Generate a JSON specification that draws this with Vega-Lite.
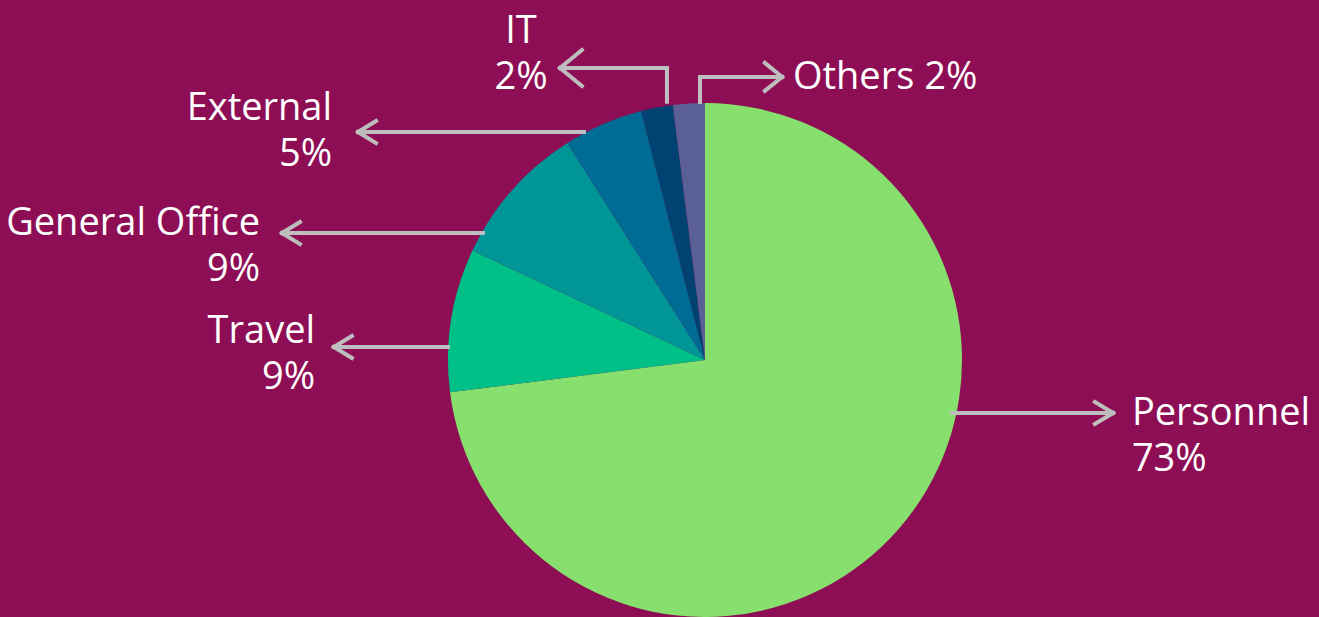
{
  "$schema": "https://vega.github.io/schema/vega-lite/v6.json",
  "width": 1228,
  "height": 514,
  "autosize": "none",
  "padding": {"left": 91, "top": 103, "right": 0, "bottom": 0},
  "background": "#8E0E55",
  "config": {"view": {"stroke": null}},
  "datasets": {
    "slices": [
      {"category": "Personnel", "share": 73, "rank": 1},
      {"category": "Travel", "share": 9, "rank": 2},
      {"category": "General Office", "share": 9, "rank": 3},
      {"category": "External", "share": 5, "rank": 4},
      {"category": "IT", "share": 2, "rank": 5},
      {"category": "Others", "share": 2, "rank": 6}
    ],
    "segs": [
      {"x": 96.1, "y": -20.6, "x2": 158.8, "y2": -20.6},
      {"x": 158.8, "y": -20.6, "x2": 151.7, "y2": -16.3},
      {"x": 158.8, "y": -20.6, "x2": 151.7, "y2": -24.9},
      {"x": -100.0, "y": 5.06, "x2": -144.4, "y2": 5.06},
      {"x": -144.4, "y": 5.06, "x2": -137.4, "y2": 9.34},
      {"x": -144.4, "y": 5.06, "x2": -137.4, "y2": 0.78},
      {"x": -86.4, "y": 49.4, "x2": -164.6, "y2": 49.4},
      {"x": -164.6, "y": 49.4, "x2": -157.6, "y2": 53.7},
      {"x": -164.6, "y": 49.4, "x2": -157.6, "y2": 45.1},
      {"x": -47.1, "y": 88.7, "x2": -135.0, "y2": 88.7},
      {"x": -135.0, "y": 88.7, "x2": -128.0, "y2": 93.0},
      {"x": -135.0, "y": 88.7, "x2": -128.0, "y2": 84.4},
      {"x": -14.8, "y": 100.5, "x2": -14.8, "y2": 113.6},
      {"x": -14.8, "y": 113.6, "x2": -56.4, "y2": 113.6},
      {"x": -56.4, "y": 113.6, "x2": -47.9, "y2": 120.6},
      {"x": -56.4, "y": 113.6, "x2": -47.9, "y2": 106.6},
      {"x": -1.95, "y": 100.4, "x2": -1.95, "y2": 110.1},
      {"x": -1.95, "y": 110.1, "x2": 30.0, "y2": 110.1},
      {"x": 30.0, "y": 110.1, "x2": 23.3, "y2": 115.6},
      {"x": 30.0, "y": 110.1, "x2": 23.3, "y2": 104.7}
    ],
    "labels": [
      {"name": "Personnel", "label": "Personnel\n73%", "x": 166.1, "y": -25.3},
      {"name": "Travel", "label": "Travel\n9%", "x": -151.7, "y": 6.6},
      {"name": "General Office", "label": "General Office\n9%", "x": -173.1, "y": 48.6},
      {"name": "External", "label": "External\n5%", "x": -145.1, "y": 93.4},
      {"name": "IT", "label": "IT\n2%", "x": -71.6, "y": 123.3},
      {"name": "Others", "label": "Others 2%", "x": 34.2, "y": 105.4}
    ]
  },
  "layer": [
    {
      "data": {"name": "slices"},
      "mark": {"type": "arc", "stroke": null},
      "encoding": {
        "theta": {"field": "share", "type": "quantitative", "stack": true},
        "order": {"field": "rank", "type": "quantitative"},
        "color": {
          "field": "category",
          "type": "nominal",
          "scale": {
            "domain": ["Personnel", "Travel", "General Office", "External", "IT", "Others"],
            "range": ["#87E06E", "#00C087", "#009698", "#006B94", "#004272", "#5A5F96"]
          },
          "legend": null
        }
      }
    },
    {
      "data": {"name": "segs"},
      "mark": {"type": "rule", "color": "#BEBEBE", "strokeWidth": 4, "strokeCap": "square"},
      "encoding": {
        "x": {"field": "x", "type": "quantitative", "scale": {"domain": [-238.9, 238.9], "nice": false, "zero": false}, "axis": null},
        "y": {"field": "y", "type": "quantitative", "scale": {"domain": [-100, 100], "nice": false, "zero": false}, "axis": null},
        "x2": {"field": "x2"},
        "y2": {"field": "y2"}
      }
    },
    {
      "data": {"name": "labels"},
      "transform": [{"filter": {"field": "name", "oneOf": ["Personnel", "Others"]}}],
      "mark": {"type": "text", "align": "left", "baseline": "alphabetic", "lineBreak": "\n", "lineHeight": 46, "font": "Open Sans", "fontSize": 38, "color": "#FFFFFF"},
      "encoding": {
        "x": {"field": "x", "type": "quantitative", "scale": {"domain": [-238.9, 238.9], "nice": false, "zero": false}, "axis": null},
        "y": {"field": "y", "type": "quantitative", "scale": {"domain": [-100, 100], "nice": false, "zero": false}, "axis": null},
        "text": {"field": "label"}
      }
    },
    {
      "data": {"name": "labels"},
      "transform": [{"filter": {"field": "name", "oneOf": ["Travel", "General Office", "External"]}}],
      "mark": {"type": "text", "align": "right", "baseline": "alphabetic", "lineBreak": "\n", "lineHeight": 46, "font": "Open Sans", "fontSize": 38, "color": "#FFFFFF"},
      "encoding": {
        "x": {"field": "x", "type": "quantitative", "scale": {"domain": [-238.9, 238.9], "nice": false, "zero": false}, "axis": null},
        "y": {"field": "y", "type": "quantitative", "scale": {"domain": [-100, 100], "nice": false, "zero": false}, "axis": null},
        "text": {"field": "label"}
      }
    },
    {
      "data": {"name": "labels"},
      "transform": [{"filter": {"field": "name", "oneOf": ["IT"]}}],
      "mark": {"type": "text", "align": "center", "baseline": "alphabetic", "lineBreak": "\n", "lineHeight": 46, "font": "Open Sans", "fontSize": 38, "color": "#FFFFFF"},
      "encoding": {
        "x": {"field": "x", "type": "quantitative", "scale": {"domain": [-238.9, 238.9], "nice": false, "zero": false}, "axis": null},
        "y": {"field": "y", "type": "quantitative", "scale": {"domain": [-100, 100], "nice": false, "zero": false}, "axis": null},
        "text": {"field": "label"}
      }
    }
  ]
}
